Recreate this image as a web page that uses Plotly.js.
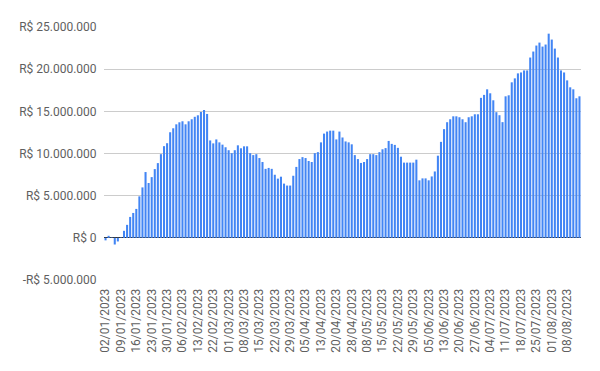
<!DOCTYPE html>
<html>
<head>
<meta charset="utf-8">
<script src="https://cdn.plot.ly/plotly-3.0.1.min.js"></script>
<style>html,body{margin:0;padding:0;background:#fff;}#chart{width:600px;height:371px;}</style>
</head>
<body>
<div id="chart"></div>
<script>
const dates = [
"02/01/2023","03/01/2023","04/01/2023","05/01/2023","06/01/2023",
"09/01/2023","10/01/2023","11/01/2023","12/01/2023","13/01/2023",
"16/01/2023","17/01/2023","18/01/2023","19/01/2023","20/01/2023",
"23/01/2023","24/01/2023","25/01/2023","26/01/2023","27/01/2023",
"30/01/2023","31/01/2023","01/02/2023","02/02/2023","03/02/2023",
"06/02/2023","07/02/2023","08/02/2023","09/02/2023","10/02/2023",
"13/02/2023","14/02/2023","15/02/2023","16/02/2023","17/02/2023",
"22/02/2023","23/02/2023","24/02/2023","27/02/2023","28/02/2023",
"01/03/2023","02/03/2023","03/03/2023","06/03/2023","07/03/2023",
"08/03/2023","09/03/2023","10/03/2023","13/03/2023","14/03/2023",
"15/03/2023","16/03/2023","17/03/2023","20/03/2023","21/03/2023",
"22/03/2023","23/03/2023","24/03/2023","27/03/2023","28/03/2023",
"29/03/2023","30/03/2023","31/03/2023","03/04/2023","04/04/2023",
"05/04/2023","06/04/2023","10/04/2023","11/04/2023","12/04/2023",
"13/04/2023","14/04/2023","17/04/2023","18/04/2023","19/04/2023",
"20/04/2023","24/04/2023","25/04/2023","26/04/2023","27/04/2023",
"28/04/2023","02/05/2023","03/05/2023","04/05/2023","05/05/2023",
"08/05/2023","09/05/2023","10/05/2023","11/05/2023","12/05/2023",
"15/05/2023","16/05/2023","17/05/2023","18/05/2023","19/05/2023",
"22/05/2023","23/05/2023","24/05/2023","25/05/2023","26/05/2023",
"29/05/2023","30/05/2023","31/05/2023","01/06/2023","02/06/2023",
"05/06/2023","06/06/2023","07/06/2023","09/06/2023","12/06/2023",
"13/06/2023","14/06/2023","15/06/2023","16/06/2023","19/06/2023",
"20/06/2023","21/06/2023","22/06/2023","23/06/2023","26/06/2023",
"27/06/2023","28/06/2023","29/06/2023","30/06/2023","03/07/2023",
"04/07/2023","05/07/2023","06/07/2023","07/07/2023","10/07/2023",
"11/07/2023","12/07/2023","13/07/2023","14/07/2023","17/07/2023",
"18/07/2023","19/07/2023","20/07/2023","21/07/2023","24/07/2023",
"25/07/2023","26/07/2023","27/07/2023","28/07/2023","31/07/2023",
"01/08/2023","02/08/2023","03/08/2023","04/08/2023","07/08/2023",
"08/08/2023","09/08/2023","10/08/2023","11/08/2023","14/08/2023"
];

const values = [
-300000,240000,50000,-790000,-430000,
50000,830000,1540000,2480000,2950000,
3430000,4920000,5980000,7800000,6500000,
7200000,8150000,8860000,9920000,10870000,
11220000,12520000,12990000,13460000,13700000,
13820000,13460000,13820000,14060000,14350000,
14530000,14920000,15160000,14690000,11550000,
11200000,11670000,11320000,11050000,10740000,
10390000,10040000,10390000,10970000,10620000,
10850000,10850000,10040000,9810000,9920000,
9460000,8990000,8180000,8290000,8180000,
7480000,7020000,7250000,6430000,6200000,
6200000,7360000,8410000,9340000,9570000,
9460000,9110000,8990000,10040000,10160000,
11320000,12360000,12600000,12710000,12710000,
11670000,12600000,11900000,11430000,11320000,
11090000,9810000,9340000,8880000,8990000,
9340000,9920000,9920000,9810000,10160000,
10500000,10640000,11490000,11140000,11020000,
10670000,9620000,8920000,8920000,8920000,
8920000,9270000,6820000,7050000,7050000,
6820000,7280000,7870000,9740000,11380000,
12890000,13710000,14060000,14410000,14410000,
14300000,14060000,13710000,14300000,14410000,
14650000,14650000,16600000,16950000,17610000,
17140000,16310000,14900000,14540000,13720000,
16780000,16900000,18440000,18910000,19500000,
19610000,19850000,19850000,21380000,22090000,
22800000,23150000,22680000,22920000,24210000,
23510000,22440000,21380000,19850000,19610000,
18670000,17850000,17610000,16550000,16780000
];

const yTickVals = [-5000000, 0, 5000000, 10000000, 15000000, 20000000, 25000000];
const yTickText = ["-R$ 5.000.000", "R$ 0", "R$ 5.000.000", "R$ 10.000.000", "R$ 15.000.000", "R$ 20.000.000", "R$ 25.000.000"];
const xTickVals = dates.filter((d, i) => i % 5 === 0);

const font = {family: "Roboto, Arial, sans-serif", size: 12, color: "#5f5f5f"};

Plotly.newPlot("chart", [{
  type: "bar",
  x: dates,
  y: values,
  marker: {color: "#4285f4"},
  hoverinfo: "skip"
}], {
  width: 600,
  height: 371,
  margin: {l: 104, r: 19, t: 27, b: 91, pad: 0},
  paper_bgcolor: "#ffffff",
  plot_bgcolor: "#ffffff",
  bargap: 0.33,
  showlegend: false,
  font: font,
  xaxis: {
    type: "category",
    range: [-0.5, dates.length - 0.5],
    tickmode: "array",
    tickvals: xTickVals,
    ticktext: xTickVals,
    tickangle: -90,
    showgrid: false,
    zeroline: false,
    showline: false,
    ticks: "outside",
    ticklen: 3,
    tickcolor: "rgba(0,0,0,0)",
    tickfont: font,
    fixedrange: true
  },
  yaxis: {
    range: [-5000000, 25000000],
    tickmode: "array",
    tickvals: yTickVals,
    ticktext: yTickText,
    showgrid: true,
    gridcolor: "#cccccc",
    gridwidth: 1,
    zeroline: true,
    zerolinecolor: "#333333",
    zerolinewidth: 1,
    showline: false,
    ticks: "outside",
    ticklen: 4,
    tickcolor: "rgba(0,0,0,0)",
    tickfont: font,
    fixedrange: true
  }
}, {displayModeBar: false, staticPlot: true});
</script>
</body>
</html>
